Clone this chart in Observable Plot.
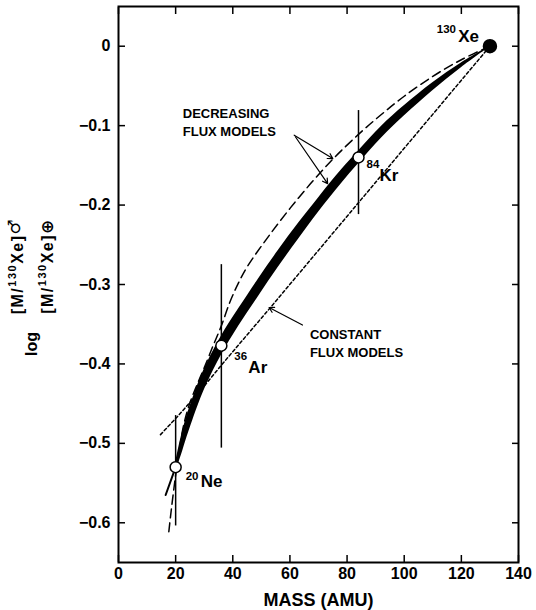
<!DOCTYPE html>
<html><head><meta charset="utf-8">
<script src="https://cdn.jsdelivr.net/npm/d3@7"></script>
<script src="https://cdn.jsdelivr.net/npm/@observablehq/plot@0.6"></script>
<style>
html,body{margin:0;padding:0;background:#fff;}
#chart{width:536px;height:610px;}
</style></head><body><div id="chart"></div>
<script>
// ---- tick values ----
const xTicks = [0, 20, 40, 60, 80, 100, 120, 140];
const yTicks = [0, -0.1, -0.2, -0.3, -0.4, -0.5, -0.6];
const xTitle = "MASS (AMU)";

// ---- measured isotopes ----
const isoSymbol = ["Xe", "Kr", "Ar", "Ne"];
const isoMassNumber = ["130", "84", "36", "20"];
const isoMass = [130, 84, 36, 20];
const isoValue = [0, -0.140, -0.377, -0.530];
const errUpper = [null, -0.081, -0.275, -0.465];
const errLower = [null, -0.212, -0.506, -0.604];

// ---- decreasing flux models: thick band (upper / lower edge) ----
const bandMass  = [130, 120, 110, 100, 92, 84, 78, 70, 63, 56, 49, 42, 36, 31, 28, 24, 22, 20];
const bandUpper = [0, -0.021, -0.046, -0.075, -0.101, -0.132, -0.156, -0.191, -0.223, -0.257, -0.293, -0.331, -0.365, -0.399, -0.424, -0.465, -0.491, -0.524];
const bandLower = [-0.001, -0.027, -0.056, -0.088, -0.116, -0.148, -0.173, -0.209, -0.243, -0.278, -0.315, -0.353, -0.389, -0.425, -0.451, -0.492, -0.515, -0.536];
// thin solid tail below Ne
const tailMass  = [20, 16.5];
const tailValue = [-0.530, -0.565];

// ---- decreasing flux models: long-dashed curve ----
const dashMass  = [130, 120, 110, 100, 92, 84, 74, 63, 53, 45, 42, 39, 36, 33, 30, 28, 25, 23, 21.5, 20, 18.5, 17.5];
const dashValue = [0, -0.017, -0.038, -0.063, -0.086, -0.111, -0.146, -0.191, -0.237, -0.278, -0.298, -0.322, -0.352, -0.378, -0.405, -0.422, -0.449, -0.474, -0.503, -0.540, -0.583, -0.615];

// ---- constant flux models: dotted line ----
const dotMass  = [14.7, 20.7, 28.8, 38, 52.7, 84, 130];
const dotValue = [-0.489, -0.466, -0.433, -0.393, -0.331, -0.197, 0];

// ---- annotations (data coordinates) ----
const annoText = ["DECREASING\nFLUX MODELS", "CONSTANT\nFLUX MODELS"];
const annoMass = [22.5, 67.0];
const annoValue = [-0.0945, -0.373];
const arrowFromMass  = [61.5, 61.9, 64.4];
const arrowFromValue = [-0.112, -0.114, -0.351];
const arrowToMass    = [75.0, 73.2, 52.7];
const arrowToValue   = [-0.1415, -0.173, -0.329];

// ---- build tables ----
const iso = isoSymbol.map((s, i) => ({sym: s, num: isoMassNumber[i], m: isoMass[i], v: isoValue[i], hi: errUpper[i], lo: errLower[i]}));
const band = bandMass.map((m, i) => ({m, hi: bandUpper[i], lo: bandLower[i]}));
const tail = tailMass.map((m, i) => ({m, v: tailValue[i]}));
const dash = dashMass.map((m, i) => ({m, v: dashValue[i]}));
const dots = dotMass.map((m, i) => ({m, v: dotValue[i]}));
const anno = annoText.map((t, i) => ({t, m: annoMass[i], v: annoValue[i]}));
const arrows = arrowFromMass.map((m, i) => ({x1: m, y1: arrowFromValue[i], x2: arrowToMass[i], y2: arrowToValue[i]}));

// label placement (layout only)
const labelPos = {
  Xe: {sdx: -34, sdy: -17, edx: -11, edy: -10, anchor: "end"},
  Kr: {sdx: 8, sdy: 7, edx: 21, edy: 18, anchor: "start"},
  Ar: {sdx: 13, sdy: 11, edx: 27, edy: 22, anchor: "start"},
  Ne: {sdx: 10, sdy: 9, edx: 25, edy: 14, anchor: "start"}
};
const labelMarks = iso.flatMap(d => {
  const p = labelPos[d.sym];
  return [
    Plot.text([d], {x: "m", y: "v", text: "num", fontSize: 11.5, dx: p.sdx, dy: p.sdy, textAnchor: p.anchor, lineAnchor: "middle"}),
    Plot.text([d], {x: "m", y: "v", text: "sym", fontSize: 17, dx: p.edx, dy: p.edy, textAnchor: p.anchor, lineAnchor: "middle"})
  ];
});

const fmtY = d => d === 0 ? "0" : d3.format(".1f")(d);

const svg = Plot.plot({
  width: 536,
  height: 610,
  marginLeft: 118,
  marginRight: 18,
  marginTop: 6,
  marginBottom: 48,
  x: {domain: [0, 140]},
  y: {domain: [-0.65, 0.05]},
  style: {fontFamily: "'Liberation Sans', Arial, sans-serif", fontWeight: "bold", color: "black", background: "white", fontSize: "16px"},
  marks: [
    Plot.axisX({ticks: xTicks, anchor: "bottom", tickSize: -7, tickPadding: 12, strokeWidth: 1.5, fontSize: 16, label: null}),
    Plot.axisX({ticks: xTicks, anchor: "top", tickSize: -7, strokeWidth: 1.5, tickFormat: () => null, label: null}),
    Plot.axisY({ticks: yTicks, anchor: "left", tickSize: -7, tickPadding: 15, strokeWidth: 1.5, fontSize: 16, tickFormat: fmtY, label: null}),
    Plot.axisY({ticks: yTicks, anchor: "right", tickSize: -7, strokeWidth: 1.5, tickFormat: () => null, label: null}),
    Plot.frame({strokeWidth: 2}),
    Plot.line(dots, {x: "m", y: "v", stroke: "black", strokeWidth: 1.5, strokeDasharray: "3,2.5"}),
    Plot.line(dash, {x: "m", y: "v", stroke: "black", strokeWidth: 1.5, strokeDasharray: "9,5", curve: "catmull-rom"}),
    Plot.areaY(band, {x: "m", y1: "lo", y2: "hi", fill: "black", curve: "catmull-rom"}),
    Plot.line(tail, {x: "m", y: "v", stroke: "black", strokeWidth: 2}),
    Plot.ruleX(iso.filter(d => d.hi != null), {x: "m", y1: "lo", y2: "hi", stroke: "black", strokeWidth: 1.5}),
    Plot.dot(iso.filter(d => d.sym === "Xe"), {x: "m", y: "v", r: 6.5, fill: "black", stroke: "black"}),
    Plot.dot(iso.filter(d => d.sym !== "Xe"), {x: "m", y: "v", r: 5.5, fill: "white", stroke: "black", strokeWidth: 1.5}),
    ...labelMarks,
    Plot.arrow(arrows, {x1: "x1", y1: "y1", x2: "x2", y2: "y2", stroke: "black", strokeWidth: 1.2, headLength: 7}),
    Plot.text(anno, {x: "m", y: "v", text: "t", fontSize: 13, textAnchor: "start", lineAnchor: "middle", lineHeight: 1.38}),
    Plot.text([xTitle], {frameAnchor: "bottom", dy: 38, fontSize: 18, lineAnchor: "middle"})
  ]
});

// y-axis title: log of a ratio (rotated)
const g = d3.select(svg).append("g")
  .attr("transform", "translate(31,266) rotate(-90)")
  .attr("font-family", "'Liberation Sans', Arial, sans-serif")
  .attr("font-weight", "bold")
  .attr("font-size", 16)
  .attr("fill", "black");
g.append("text").attr("x", -78).attr("y", 6).attr("text-anchor", "middle").text("log");
function ratio(y, sym, symDy, symSize) {
  const t = g.append("text").attr("x", 0).attr("y", y).attr("text-anchor", "middle").attr("letter-spacing", 1.5);
  t.append("tspan").text("[M/");
  t.append("tspan").attr("font-size", 11).attr("dy", -7).text("130");
  t.append("tspan").attr("dy", 7).text("Xe]");
  t.append("tspan").attr("font-size", symSize).attr("font-family", "'DejaVu Sans', sans-serif").attr("dy", symDy).text(sym);
}
ratio(-8, "\u2642", -3, 17);
ratio(22, "\u2295", 0, 17);

document.getElementById("chart").appendChild(svg);
</script>
</body></html>
